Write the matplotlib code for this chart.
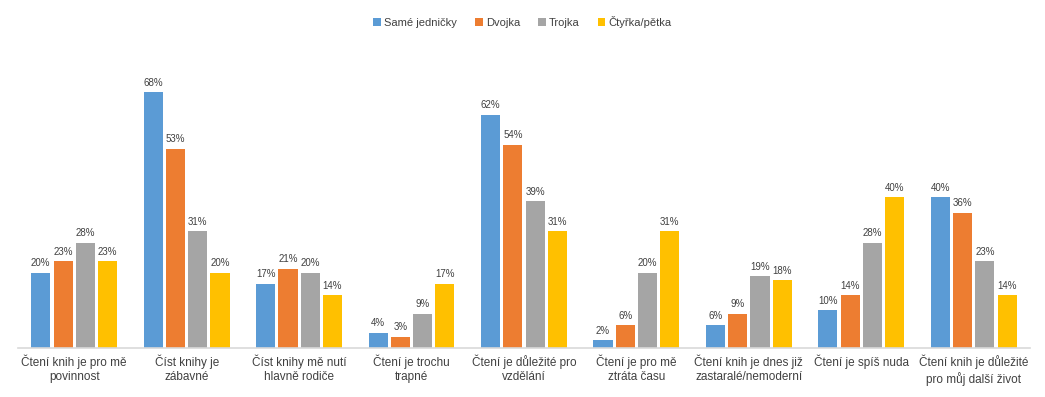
import numpy as np
import matplotlib.pyplot as plt

# categories and values (percent)
categories = ["Čtení knih je pro mě\npovinnost",
              "Číst knihy je\nzábavné",
              "Číst knihy mě nutí\nhlavně rodiče",
              "Čtení je trochu\ntrapné",
              "Čtení je důležité pro\nvzdělání",
              "Čtení je pro mě\nztráta času",
              "Čtení knih je dnes již\nzastaralé/nemoderní",
              "Čtení je spíš nuda",
              "Čtení knih je důležité\npro můj další život"]
series_names = ["Samé jedničky", "Dvojka", "Trojka", "Čtyřka/pětka"]
jednicky = [20, 68, 17, 4, 62, 2, 6, 10, 40]
dvojka = [23, 53, 21, 3, 54, 6, 9, 14, 36]
trojka = [28, 31, 20, 9, 39, 20, 19, 28, 23]
ctyrka = [23, 20, 14, 17, 31, 31, 18, 40, 14]
colors = ["#5B9BD5", "#ED7D31", "#A5A5A5", "#FFC000"]

plt.rcParams['font.family'] = ['Liberation Sans', 'DejaVu Sans']

fig = plt.figure(figsize=(10.45, 3.97), dpi=100)
ax = fig.add_axes([0.0172, 0.124, 0.9684, 0.776])

x = np.arange(len(categories))
pitch = 0.198
width = 0.17
allSeries = [jednicky, dvojka, trojka, ctyrka]
for i, vals in enumerate(allSeries):
    pos = x + (i - 1.5) * pitch
    bars = ax.bar(pos, vals, width, color=colors[i], label=series_names[i], zorder=2)
    for b, v in zip(bars, vals):
        ax.text(b.get_x() + b.get_width() / 2, v + 1.2, str(v) + "%",
                ha='center', va='bottom', fontsize=7, color='#404040')

ax.set_xlim(-0.5, len(categories) - 0.5)
ax.set_ylim(0, 82)
ax.set_xticks(x)
ax.set_xticklabels(categories, fontsize=8.5, color='#404040', linespacing=1.25)
ax.tick_params(axis='x', length=0, pad=5)
ax.set_yticks([])
for s in ['top', 'right', 'left']:
    ax.spines[s].set_visible(False)
ax.spines['bottom'].set_color('#D9D9D9')
ax.spines['bottom'].set_linewidth(1.2)

fig.legend(loc='upper center', bbox_to_anchor=(0.5, 0.985), ncol=4, frameon=False,
           fontsize=8, handlelength=0.7, handleheight=0.7, handletextpad=0.3,
           columnspacing=1.6, labelcolor='#404040')

fig.savefig('out.png', dpi=100)
